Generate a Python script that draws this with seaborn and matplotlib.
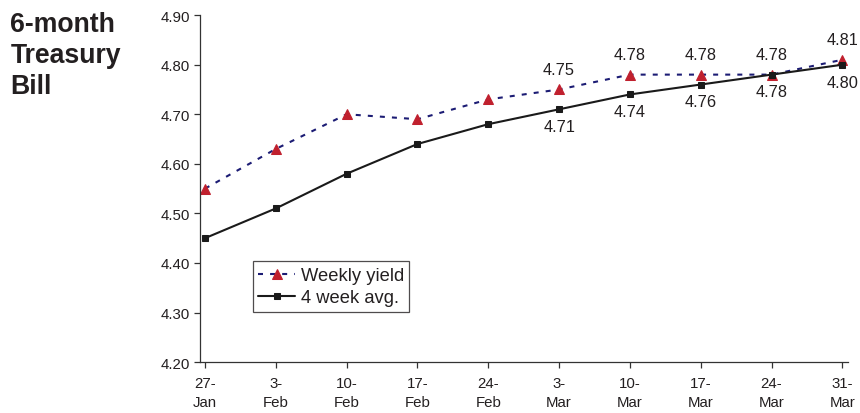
import matplotlib
matplotlib.use("Agg")
import matplotlib.pyplot as plt
import seaborn as sns
import pandas as pd

# Weekly 6-month T-bill yields and their 4-week moving average
dates = ["27-\nJan", "3-\nFeb", "10-\nFeb", "17-\nFeb", "24-\nFeb",
         "3-\nMar", "10-\nMar", "17-\nMar", "24-\nMar", "31-\nMar"]
weekly_yield = [4.55, 4.63, 4.70, 4.69, 4.73, 4.75, 4.78, 4.78, 4.78, 4.81]
four_week_avg = [4.45, 4.51, 4.58, 4.64, 4.68, 4.71, 4.74, 4.76, 4.78, 4.80]
labeled_from = 5  # values are printed from 3-Mar onward

y_ticks = [4.20, 4.30, 4.40, 4.50, 4.60, 4.70, 4.80, 4.90]

sns.set_theme(style="white")
plt.rcParams["font.family"] = ["Liberation Sans", "DejaVu Sans"]
text_color = "#231f20"

df = pd.DataFrame({"week": range(len(dates)),
                   "Weekly yield": weekly_yield,
                   "4 week avg.": four_week_avg})

fig = plt.figure(figsize=(8.6, 4.14), dpi=100)
ax = fig.add_axes([0.2326, 0.123, 0.7535, 0.838])

sns.lineplot(data=df, x="week", y="Weekly yield", ax=ax, color="#1c1c74",
             linewidth=1.5, dashes=False, label="Weekly yield",
             marker="^", markersize=7, markerfacecolor="#c0202e",
             markeredgecolor="#c0202e")
ax.lines[-1].set_dashes((2.4, 3.4))
sns.lineplot(data=df, x="week", y="4 week avg.", ax=ax, color="#1a1a1a",
             linewidth=1.5, label="4 week avg.",
             marker="s", markersize=5, markerfacecolor="#1a1a1a",
             markeredgecolor="#1a1a1a")

for i in range(labeled_from, len(dates)):
    ax.annotate(f"{weekly_yield[i]:.2f}", (i, weekly_yield[i]),
                xytext=(0, 14.5), textcoords="offset points",
                ha="center", va="center", fontsize=11.8, color=text_color)
    ax.annotate(f"{four_week_avg[i]:.2f}", (i, four_week_avg[i]),
                xytext=(0, -12.5), textcoords="offset points",
                ha="center", va="center", fontsize=11.8, color=text_color)

ax.set_xlim(-0.07, 9.08)
ax.set_ylim(4.20, 4.90)
ax.set_xticks(range(len(dates)))
ax.set_xticklabels(dates, fontsize=10.8, color=text_color, linespacing=1.45)
ax.set_yticks(y_ticks)
ax.set_yticklabels([f"{v:.2f}" for v in y_ticks], fontsize=10.8,
                   color=text_color)
ax.set_xlabel("")
ax.set_ylabel("")
ax.tick_params(axis="x", direction="out", length=4, width=0.9,
               color="#333333", bottom=True, pad=6)
ax.tick_params(axis="y", direction="out", length=4, width=0.9,
               color="#333333", left=True, pad=3)

for side in ("top", "right"):
    ax.spines[side].set_visible(False)
for side in ("left", "bottom"):
    ax.spines[side].set_color("#333333")
    ax.spines[side].set_linewidth(0.9)

leg = ax.legend(loc="upper left", bbox_to_anchor=(0.0815, 0.29),
                fontsize=13.2, frameon=True, fancybox=False,
                handlelength=2.0, handletextpad=0.3, borderpad=0.3,
                labelspacing=0.3, borderaxespad=0)
leg.get_frame().set_edgecolor("#231f20")
leg.get_frame().set_linewidth(0.9)
for t in leg.get_texts():
    t.set_color(text_color)

fig.text(0.012, 0.972, "6-month\nTreasury\nBill", ha="left", va="top",
         fontsize=19.2, fontweight="bold", color=text_color, linespacing=1.25)

fig.savefig("out.png", dpi=100)
